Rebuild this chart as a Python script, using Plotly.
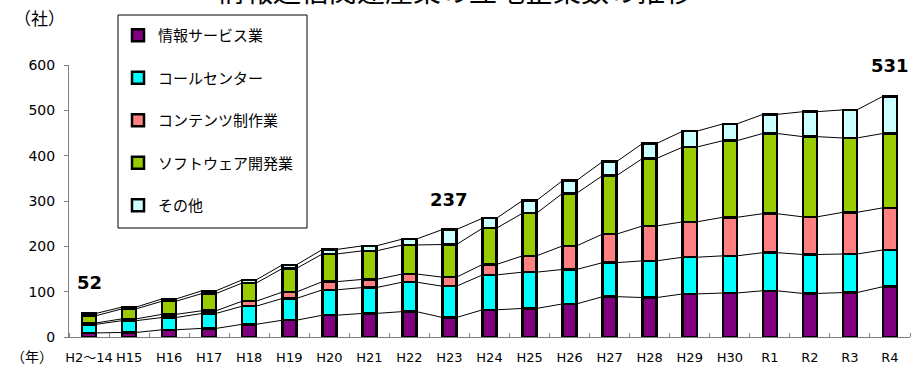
import plotly.graph_objects as go
import numpy as np

categories = ["H2～14", "H15", "H16", "H17", "H18", "H19", "H20", "H21", "H22", "H23",
              "H24", "H25", "H26", "H27", "H28", "H29", "H30", "R1", "R2", "R3", "R4"]

info_service = [9, 10, 16, 19, 28, 37, 48, 52, 56, 43, 60, 63, 73, 89, 87, 95, 97, 102, 96, 98, 111]
call_center = [19, 26, 27, 33, 40, 48, 56, 57, 65, 69, 77, 80, 76, 75, 81, 81, 82, 84, 86, 85, 81]
contents = [3, 4, 7, 6, 11, 14, 18, 18, 18, 20, 23, 36, 52, 63, 77, 78, 85, 86, 83, 92, 93]
software = [16, 22, 29, 38, 40, 52, 61, 63, 64, 72, 80, 94, 116, 129, 149, 165, 169, 177, 177, 164, 164]
others = [5, 4, 5, 6, 7, 8, 10, 11, 13, 33, 22, 28, 28, 31, 33, 35, 37, 42, 55, 62, 82]

series_names = ["情報サービス業", "コールセンター", "コンテンツ制作業", "ソフトウェア開発業", "その他"]
series_colors = ["#800080", "#00FFFF", "#FF8080", "#99CC00", "#CCFFFF"]
series_values = [info_service, call_center, contents, software, others]

labeled_idx = [0, 9, 20]

title_text = "情報通信関連産業の立地企業数の推移"

NUM_FONT = "DejaVu Sans, Noto Sans CJK JP, sans-serif"
JP_FONT = "Noto Sans CJK JP, sans-serif"

x = np.arange(len(categories))
bar_w = 0.35

fig = go.Figure()
for name, color, vals in zip(series_names, series_colors, series_values):
    fig.add_trace(go.Bar(
        x=x, y=vals, name=name, width=bar_w, legendgroup=name,
        marker=dict(color=color, line=dict(color="black", width=2.5)),
    ))

# series lines connecting segment tops
cum = np.cumsum(np.array(series_values), axis=0)
for k in range(cum.shape[0]):
    lx, ly = [], []
    for i in range(len(categories) - 1):
        lx += [x[i] + bar_w / 2, x[i + 1] - bar_w / 2, None]
        ly += [cum[k][i], cum[k][i + 1], None]
    fig.add_trace(go.Scatter(x=lx, y=ly, mode="lines", showlegend=False,
                             legendgroup="series_lines",
                             line=dict(color="black", width=1), hoverinfo="skip"))

totals = cum[-1]
annotations = []
for i in labeled_idx:
    annotations.append(dict(x=x[i], y=float(totals[i]), xref="x", yref="y",
                            text=f"<b>{int(totals[i])}</b>", showarrow=False,
                            yanchor="bottom", yshift=18,
                            font=dict(family=NUM_FONT, size=18, color="black")))

annotations.append(dict(x=0.459, y=1.195, xref="paper", yref="paper", text=title_text,
                        showarrow=False, xanchor="center", yanchor="bottom",
                        font=dict(family=JP_FONT, size=28, color="black")))
annotations.append(dict(x=-0.0672, y=1.1728, xref="paper", yref="paper", text="（社）",
                        showarrow=False, xanchor="left", yanchor="middle",
                        font=dict(family=JP_FONT, size=17, color="black")))
annotations.append(dict(x=-0.0712, y=-0.0699, xref="paper", yref="paper", text="（年）",
                        showarrow=False, xanchor="left", yanchor="middle",
                        font=dict(family=JP_FONT, size=14, color="black")))

fig.update_layout(
    width=922, height=366,
    margin=dict(l=69, r=12, t=65, b=29, autoexpand=False),
    barmode="stack",
    plot_bgcolor="white", paper_bgcolor="white",
    annotations=annotations,
    shapes=[dict(type="rect", xref="paper", yref="paper",
                 x0=(118 - 69) / 841, x1=(307 - 69) / 841,
                 y0=(337 - 228) / 272, y1=(337 - 15) / 272,
                 line=dict(color="black", width=1), fillcolor="rgba(0,0,0,0)", layer="above")],
    legend=dict(x=(118 - 69) / 841, y=(337 - 19) / 272, xanchor="left", yanchor="top",
                traceorder="grouped", tracegroupgap=20, maxheight=360,
                bgcolor="rgba(0,0,0,0)", borderwidth=0,
                font=dict(family=JP_FONT, size=15, color="black")),
    xaxis=dict(range=[-0.5, len(categories) - 0.5], tickmode="array", tickvals=x,
               ticktext=categories, ticks="", showline=True, linecolor="#808080",
               linewidth=1, showgrid=False, zeroline=False, ticklabelstandoff=8,
               automargin=False,
               tickfont=dict(family=NUM_FONT, size=13, color="black"),
               minor=dict(ticks="inside", tick0=-0.5, dtick=1, ticklen=4,
                          tickcolor="#808080", tickwidth=1, showgrid=False)),
    yaxis=dict(range=[0, 600], tickmode="linear", tick0=0, dtick=100, ticks="outside",
               ticklen=4, tickcolor="#808080", showline=True, linecolor="#808080",
               linewidth=1, showgrid=False, zeroline=False, ticklabelstandoff=6,
               automargin=False,
               tickfont=dict(family=NUM_FONT, size=14, color="black")),
)

fig.write_html("out.html")
